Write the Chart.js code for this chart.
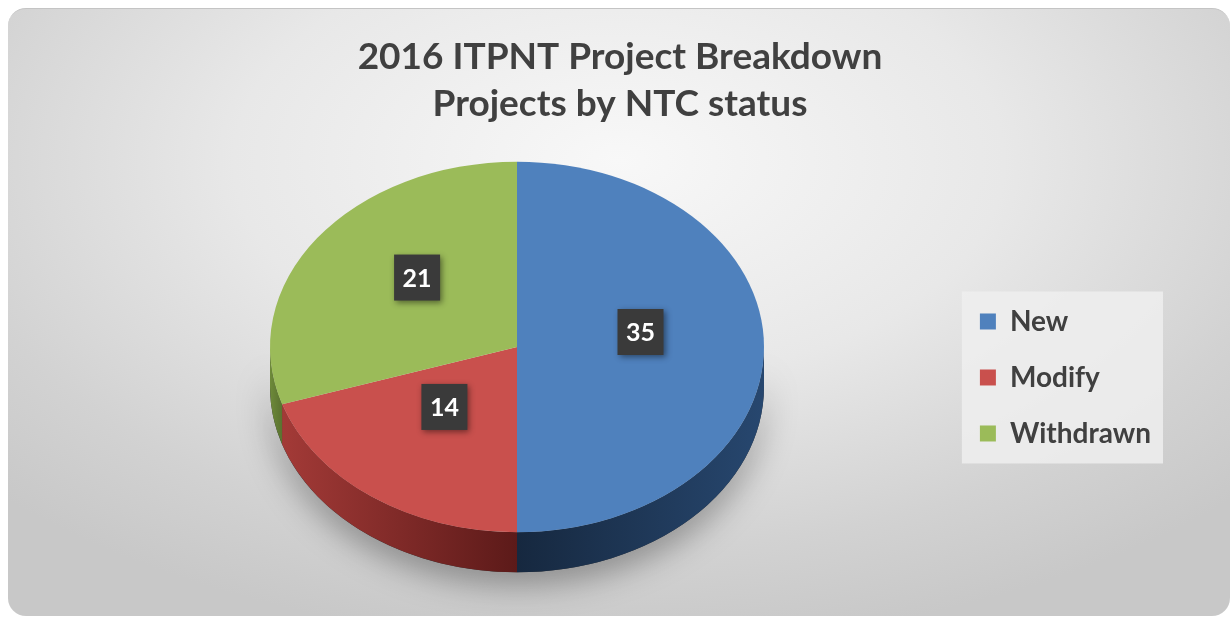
<!DOCTYPE html>
<html>
<head>
<meta charset="utf-8">
<title>2016 ITPNT Project Breakdown</title>
<script src="https://cdn.jsdelivr.net/npm/chart.js@4.4.0/dist/chart.umd.min.js"></script>
<style>
  html, body { margin: 0; padding: 0; background: #fff; }
  #frame {
    position: absolute; left: 8px; top: 8px; width: 1222px; height: 607px;
    border-radius: 18px;
    background: radial-gradient(ellipse 70% 80% at 50% 25%, #f8f8f8 0%, #e8e8e8 45%, #d2d2d2 80%, #c8c8c8 100%);
    border-top: 1px solid #c4c4c4;
  }
  #wrap { position: absolute; left: 0; top: 0; width: 1230px; height: 617px; }
</style>
</head>
<body>
<div id="frame"></div>
<div id="wrap"><canvas id="pieChart" width="1230" height="617"></canvas></div>
<script>
// --- Datos ---
const titleLines = ["2016 ITPNT Project Breakdown", "Projects by NTC status"];
const categories = ["New", "Modify", "Withdrawn"];
const projectCounts = [35, 14, 21];
const topColors = ["#4f81bd", "#c9504d", "#9bbb59"];
// colores del lateral (izquierda -> derecha)
const sideColors = [
  ["#16283f", "#27476f"],
  ["#a33a37", "#5c1a19"],
  ["#6e8a3a", "#5a7230"],
];

// --- Geometría del "3D" ---
const PIE_CX = 517;
const PIE_CY = 347;
const PIE_R = 247;
const TILT = 0.75;   // alto/ancho de la elipse
const DEPTH = 40;    // grosor en px
const LABEL_LIFT = 15;
const fontFamily = "Lato, 'Open Sans', sans-serif";

function clampFront(a1, a2) {
  // parte de [a1, a2] que cae en la mitad delantera (0..PI)
  const s = Math.max(a1, 0);
  const e = Math.min(a2, Math.PI);
  return e > s ? [s, e] : null;
}

const pie3d = {
  id: "pie3d",
  beforeDraw(chart) {
    // fondo de la leyenda
    const lg = chart.legend;
    if (!lg || !lg.legendHitBoxes || !lg.legendHitBoxes.length) return;
    const hb = lg.legendHitBoxes;
    const left = Math.min(...hb.map((h) => h.left)) - 18;
    const top = Math.min(...hb.map((h) => h.top)) - 16;
    const right = Math.max(...hb.map((h) => h.left + h.width)) + 12;
    const bottom = Math.max(...hb.map((h) => h.top + h.height)) + 16;
    const ctx = chart.ctx;
    ctx.save();
    ctx.fillStyle = "rgba(238, 238, 238, 0.85)";
    ctx.fillRect(left, top, right - left, bottom - top);
    ctx.restore();
  },
  beforeDatasetsDraw(chart) {
    const ctx = chart.ctx;
    const meta = chart.getDatasetMeta(0);
    const { x, y, outerRadius: r } = meta.data[0];
    const d = DEPTH / TILT;

    ctx.save();
    ctx.translate(PIE_CX, PIE_CY);
    ctx.scale(1, TILT);
    ctx.translate(-x, -y);

    // sombra bajo la torta
    ctx.save();
    ctx.shadowColor = "rgba(0, 0, 0, 0.35)";
    ctx.shadowBlur = 32;
    ctx.shadowOffsetY = 12;
    ctx.beginPath();
    ctx.arc(x, y, r, 0, Math.PI);
    ctx.arc(x, y + d, r, Math.PI, 0, true);
    ctx.closePath();
    ctx.fillStyle = "#333";
    ctx.fill();
    ctx.restore();

    // laterales
    meta.data.forEach((arc, i) => {
      const range = clampFront(arc.startAngle, arc.endAngle);
      if (!range) return;
      const [a1, a2] = range;
      const xa = x + Math.cos(a1) * r;
      const xb = x + Math.cos(a2) * r;
      const grad = ctx.createLinearGradient(Math.min(xa, xb), 0, Math.max(xa, xb), 0);
      const c = sideColors[i];
      grad.addColorStop(0, c[0]);
      grad.addColorStop(1, c[1]);
      ctx.beginPath();
      ctx.arc(x, y, r, a1, a2);
      ctx.arc(x, y + d, r, a2, a1, true);
      ctx.closePath();
      ctx.fillStyle = grad;
      ctx.fill();
    });
  },
  afterDatasetsDraw(chart) {
    const ctx = chart.ctx;
    ctx.restore();

    // etiquetas de valor
    const meta = chart.getDatasetMeta(0);
    meta.data.forEach((arc, i) => {
      const mid = (arc.startAngle + arc.endAngle) / 2;
      const rr = arc.outerRadius * 0.5;
      const lx = PIE_CX + Math.cos(mid) * rr;
      const ly = PIE_CY + Math.sin(mid) * rr * TILT - LABEL_LIFT;
      const size = 46;
      ctx.save();
      ctx.shadowColor = "rgba(0, 0, 0, 0.45)";
      ctx.shadowBlur = 6;
      ctx.shadowOffsetX = 2;
      ctx.shadowOffsetY = 2;
      ctx.fillStyle = "#3a3a3a";
      ctx.fillRect(lx - size / 2, ly - size / 2, size, size);
      ctx.restore();
      ctx.save();
      ctx.fillStyle = "#ffffff";
      ctx.font = "bold 25px " + fontFamily;
      ctx.textAlign = "center";
      ctx.textBaseline = "middle";
      ctx.fillText(String(projectCounts[i]), lx, ly + 1);
      ctx.restore();
    });
  },
};

const ctx = document.getElementById("pieChart").getContext("2d");
const pieChart = new Chart(ctx, {
  type: "pie",
  data: {
    labels: categories,
    datasets: [
      {
        label: "Projects",
        data: projectCounts,
        backgroundColor: topColors,
        borderWidth: 0,
        radius: PIE_R,
        clip: false,
      },
    ],
  },
  options: {
    responsive: false,
    animation: false,
    layout: { padding: { left: 79, right: 69, top: 0, bottom: 0 } },
    plugins: {
      title: {
        display: true,
        text: titleLines,
        color: "#404040",
        font: { family: fontFamily, size: 37, weight: "bold", lineHeight: 1.27 },
        padding: { top: 34, bottom: 10 },
      },
      legend: {
        display: true,
        position: "right",
        align: "center",
        fullSize: false,
        labels: {
          color: "#404040",
          boxWidth: 16,
          boxHeight: 16,
          padding: 28,
          font: { family: fontFamily, size: 28, weight: "bold" },
        },
      },
      tooltip: { enabled: false },
    },
  },
  plugins: [pie3d],
});
</script>
</body>
</html>
